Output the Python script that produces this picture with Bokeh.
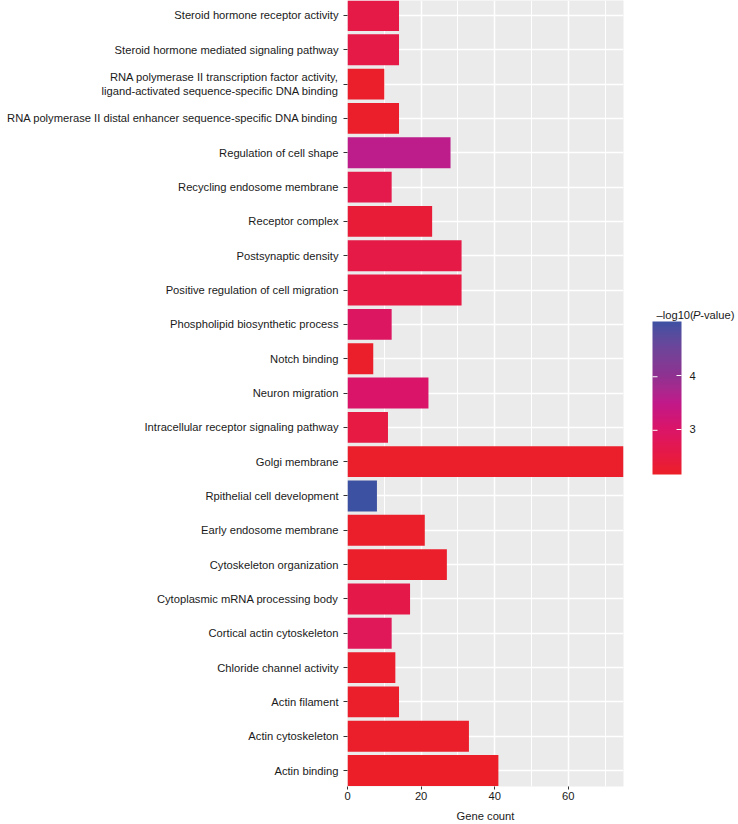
import numpy as np
from bokeh.plotting import figure
from bokeh.layouts import row
from bokeh.models import (Range1d, FixedTicker, LinearColorMapper, ColorBar,
                          Label, ColumnDataSource)
from bokeh.transform import transform
from bokeh.embed import file_html
from bokeh.resources import INLINE

# ---------------- data (top to bottom as in the chart) ----------------
categories = [
    "Steroid hormone receptor activity",
    "Steroid hormone mediated signaling pathway",
    "RNA polymerase II transcription factor activity,\nligand-activated sequence-specific DNA binding",
    "RNA polymerase II distal enhancer sequence-specific DNA binding",
    "Regulation of cell shape",
    "Recycling endosome membrane",
    "Receptor complex",
    "Postsynaptic density",
    "Positive regulation of cell migration",
    "Phospholipid biosynthetic process",
    "Notch binding",
    "Neuron migration",
    "Intracellular receptor signaling pathway",
    "Golgi membrane",
    "Rpithelial cell development",
    "Early endosome membrane",
    "Cytoskeleton organization",
    "Cytoplasmic mRNA processing body",
    "Cortical actin cytoskeleton",
    "Chloride channel activity",
    "Actin filament",
    "Actin cytoskeleton",
    "Actin binding",
]
gene_count = [14, 14, 10, 14, 28, 12, 23, 31, 31, 12, 7, 22, 11, 75, 8, 21, 27, 17, 12, 13, 14, 33, 41]
neg_log10_p = [2.55, 2.55, 2.2, 2.2, 3.55, 2.62, 2.35, 2.55, 2.5, 2.92, 2.2, 3.02, 2.5, 2.2,
               5.01, 2.2, 2.2, 2.58, 2.78, 2.22, 2.2, 2.2, 2.16]
x_ticks = [0, 20, 40, 60]
x_minor_ticks = [10, 30, 50, 70]
colorbar_ticks = [3, 4]
legend_title_parts = ["\u2013log10(", "P", "-value)"]
x_axis_title = "Gene count"

# colour stops (value, colour)
stop_values = [2.16, 3.0, 3.5, 4.0, 5.01]
stop_colors = ["#EC1F28", "#DB1568", "#C0198A", "#8F3191", "#3D51A2"]


# ---------------- colour helpers (Lab interpolation) ----------------
def hex_to_lab(h):
    c = np.array([int(h[i:i + 2], 16) for i in (1, 3, 5)]) / 255.0
    lin = np.where(c <= 0.04045, c / 12.92, ((c + 0.055) / 1.055) ** 2.4)
    M = np.array([[0.4124, 0.3576, 0.1805], [0.2126, 0.7152, 0.0722], [0.0193, 0.1192, 0.9505]])
    xyz = M @ lin / np.array([0.95047, 1.0, 1.08883])
    f = np.where(xyz > 0.008856, np.cbrt(xyz), 7.787 * xyz + 16 / 116)
    return np.array([116 * f[1] - 16, 500 * (f[0] - f[1]), 200 * (f[1] - f[2])])


def lab_to_hex(lab):
    L, a, b = lab
    fy = (L + 16) / 116
    f = np.array([fy + a / 500, fy, fy - b / 200])
    xyz = np.where(f ** 3 > 0.008856, f ** 3, (f - 16 / 116) / 7.787) * np.array([0.95047, 1.0, 1.08883])
    Minv = np.array([[3.2406, -1.5372, -0.4986], [-0.9689, 1.8758, 0.0415], [0.0557, -0.2040, 1.0570]])
    lin = Minv @ xyz
    c = np.where(lin <= 0.0031308, 12.92 * lin, 1.055 * np.abs(lin) ** (1 / 2.4) - 0.055)
    c = np.clip(np.round(c * 255), 0, 255).astype(int)
    return "#%02X%02X%02X" % tuple(c)


labs = np.array([hex_to_lab(c) for c in stop_colors])
grid_vals = np.linspace(stop_values[0], stop_values[-1], 256)
palette = [lab_to_hex(np.array([np.interp(v, stop_values, labs[:, k]) for k in range(3)]))
           for v in grid_vals]
mapper = LinearColorMapper(palette=palette, low=stop_values[0], high=stop_values[-1])

# ---------------- main figure ----------------
n = len(categories)
ypos = [n - 1 - i for i in range(n)]
src = ColumnDataSource(dict(y=ypos, count=gene_count, p=neg_log10_p, cat=categories))

FONT = "Liberation Sans"
FS = "11.2px"
TXT = "#1A1A1A"
H = 824
BOTTOM = 36

p = figure(width=630, height=H, output_backend="svg", toolbar_location=None,
           x_range=Range1d(0, max(gene_count)), y_range=Range1d(-0.465, n - 1 + 0.436),
           min_border_left=347, min_border_right=7, min_border_top=0, min_border_bottom=BOTTOM,
           background_fill_color="#EBEBEB", border_fill_color="white", outline_line_color=None)

p.hbar(y="y", right="count", left=0, height=0.9, source=src,
       fill_color=transform("p", mapper), line_color=None)

for ax in (p.xaxis[0], p.yaxis[0]):
    ax.axis_line_color = None
    ax.minor_tick_line_color = None
    ax.major_tick_line_color = "#333333"
    ax.major_tick_line_width = 1
    ax.major_tick_in = 0
    ax.major_label_text_font = FONT
    ax.major_label_text_font_size = FS
    ax.major_label_text_color = TXT
p.xaxis.ticker = FixedTicker(ticks=x_ticks, minor_ticks=x_minor_ticks)
p.yaxis.ticker = FixedTicker(ticks=ypos)
p.yaxis.major_label_overrides = {y: c for y, c in zip(ypos, categories)}
p.yaxis.major_tick_out = 4
p.yaxis.major_label_standoff = 5
p.xaxis.major_tick_out = 3
p.xaxis.major_label_standoff = 1
p.xaxis.axis_label = x_axis_title
p.xaxis.axis_label_text_font = FONT
p.xaxis.axis_label_text_font_size = FS
p.xaxis.axis_label_text_font_style = "normal"
p.xaxis.axis_label_text_color = TXT
p.xaxis.axis_label_standoff = 7

p.xgrid.grid_line_color = "white"
p.xgrid.grid_line_width = 1.5
p.xgrid.minor_grid_line_color = "white"
p.xgrid.minor_grid_line_width = 1.0
p.ygrid.grid_line_color = "white"
p.ygrid.grid_line_width = 1.5

# ---------------- legend figure (colour bar) ----------------
# frame spans the same height as the main frame; data units == pixels, y measured up from page bottom
LW = 108
leg = figure(width=LW, height=H, output_backend="svg", toolbar_location=None,
             x_range=Range1d(0, LW), y_range=Range1d(BOTTOM, H),
             x_axis_type=None, y_axis_type=None,
             min_border_left=0, min_border_right=0, min_border_top=0, min_border_bottom=BOTTOM,
             outline_line_color=None, background_fill_color="white", border_fill_color="white")
leg.xgrid.visible = False
leg.ygrid.visible = False

CB_X, CB_Y, CB_W, CB_H = 22, 348, 29, 153
cb = ColorBar(color_mapper=mapper, width=CB_W, height=CB_H, location=(CB_X, CB_Y - BOTTOM),
              padding=0, background_fill_alpha=0, border_line_color=None, bar_line_color=None,
              ticker=FixedTicker(ticks=colorbar_ticks), major_tick_line_color="white",
              major_tick_line_width=1, major_tick_in=5, major_tick_out=0,
              minor_tick_line_color=None,
              major_label_text_font=FONT, major_label_text_font_size=FS,
              major_label_text_color=TXT, label_standoff=8)
leg.add_layout(cb, "center")

# left-edge white ticks of the colour bar (ggplot draws them on both edges)
tick_y = [CB_Y + (v - mapper.low) / (mapper.high - mapper.low) * CB_H for v in colorbar_ticks]
leg.segment(x0=[CB_X] * len(tick_y), x1=[CB_X + 5] * len(tick_y), y0=tick_y, y1=tick_y,
            line_color="white", line_width=1, level="overlay")

offsets = [0, 36.5, 43.8]
styles = ["normal", "italic", "normal"]
for part, off, st in zip(legend_title_parts, offsets, styles):
    leg.add_layout(Label(x=26, y=509, x_offset=off, text=part, text_font=FONT,
                         text_font_size=FS, text_font_style=st, text_color=TXT,
                         text_baseline="middle", text_align="left"))

layout = row(p, leg, spacing=0)
open("out.html", "w").write(file_html(layout, INLINE))
